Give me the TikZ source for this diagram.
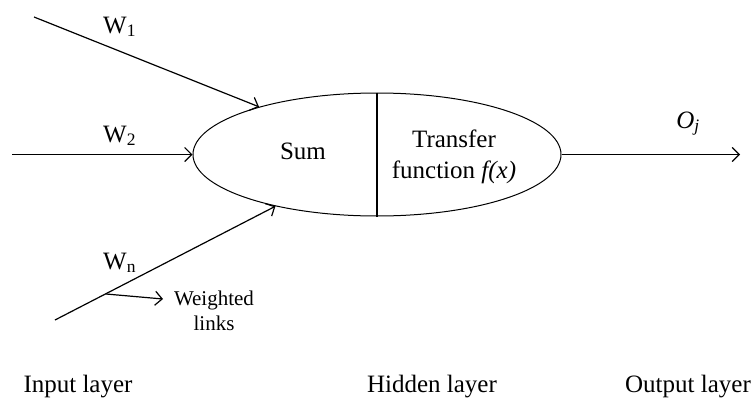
\documentclass[tikz,border=0pt]{standalone}
\usepackage{fontspec}
\setmainfont{Liberation Serif}
\usetikzlibrary{arrows.meta,shapes.geometric,calc}

\begin{document}
\begin{tikzpicture}[x=1pt,y=-1pt,
  every node/.style={inner sep=0pt, font=\fontsize{25}{30}\selectfont},
  small/.style={font=\fontsize{21}{25}\selectfont},
  link/.style={line width=1.2pt,
    -{Straight Barb[length=7pt,width=14pt,line width=1.2pt]}},
  cellshape/.style={draw, ellipse, line width=1pt,
    minimum width=368pt, minimum height=123pt}]

\useasboundingbox (0,0) rectangle (756,399);

% neuron: summation and transfer halves
\node[cellshape] (cell) at (377,154.5) {};
\draw[line width=1.2pt] (cell.north) -- (cell.south);
\node[anchor=base] (sum) at (303,159) {Sum};
\node[anchor=base] (tf1) at (454,147) {Transfer};
\node[anchor=base] (tf2) at (454,178) {function \textit{f(x)}};

% inputs
\coordinate (in1) at (34,17);
\coordinate (in2) at (12,154.5);
\coordinate (inn) at (55,320);
\draw[link] (in1) -- (cell.158.3);
\draw[link] (in2) -- (cell.west);
\draw[link] (inn) -- (cell.207.5);
\node[anchor=base west] (w1) at (103,33) {W\textsubscript{1}};
\node[anchor=base west] (w2) at (103,142) {W\textsubscript{2}};
\node[anchor=base west] (wn) at (103,269) {W\textsubscript{n}};

% weighted links pointer
\coordinate (wl) at ($(inn)!0.229!(cell.207.5)$);
\coordinate (wlend) at (163,299);
\draw[link] (wl) -- (wlend);
\node[small, anchor=base] (wtd) at (214,305) {Weighted};
\node[small, anchor=base] (lnk) at (214,330) {links};

% output
\coordinate (oend) at (740,154.5);
\draw[link] (cell.east) -- (oend);
\node[anchor=base] (oj) at (688,128) {\textit{O}\textsubscript{\textit{j}}};

% layer captions
\node[anchor=base] (inl) at (78,392) {Input layer};
\node[anchor=base] (hdl) at (432,392) {Hidden layer};
\node[anchor=base] (otl) at (688,392) {Output layer};
\end{tikzpicture}
\end{document}
